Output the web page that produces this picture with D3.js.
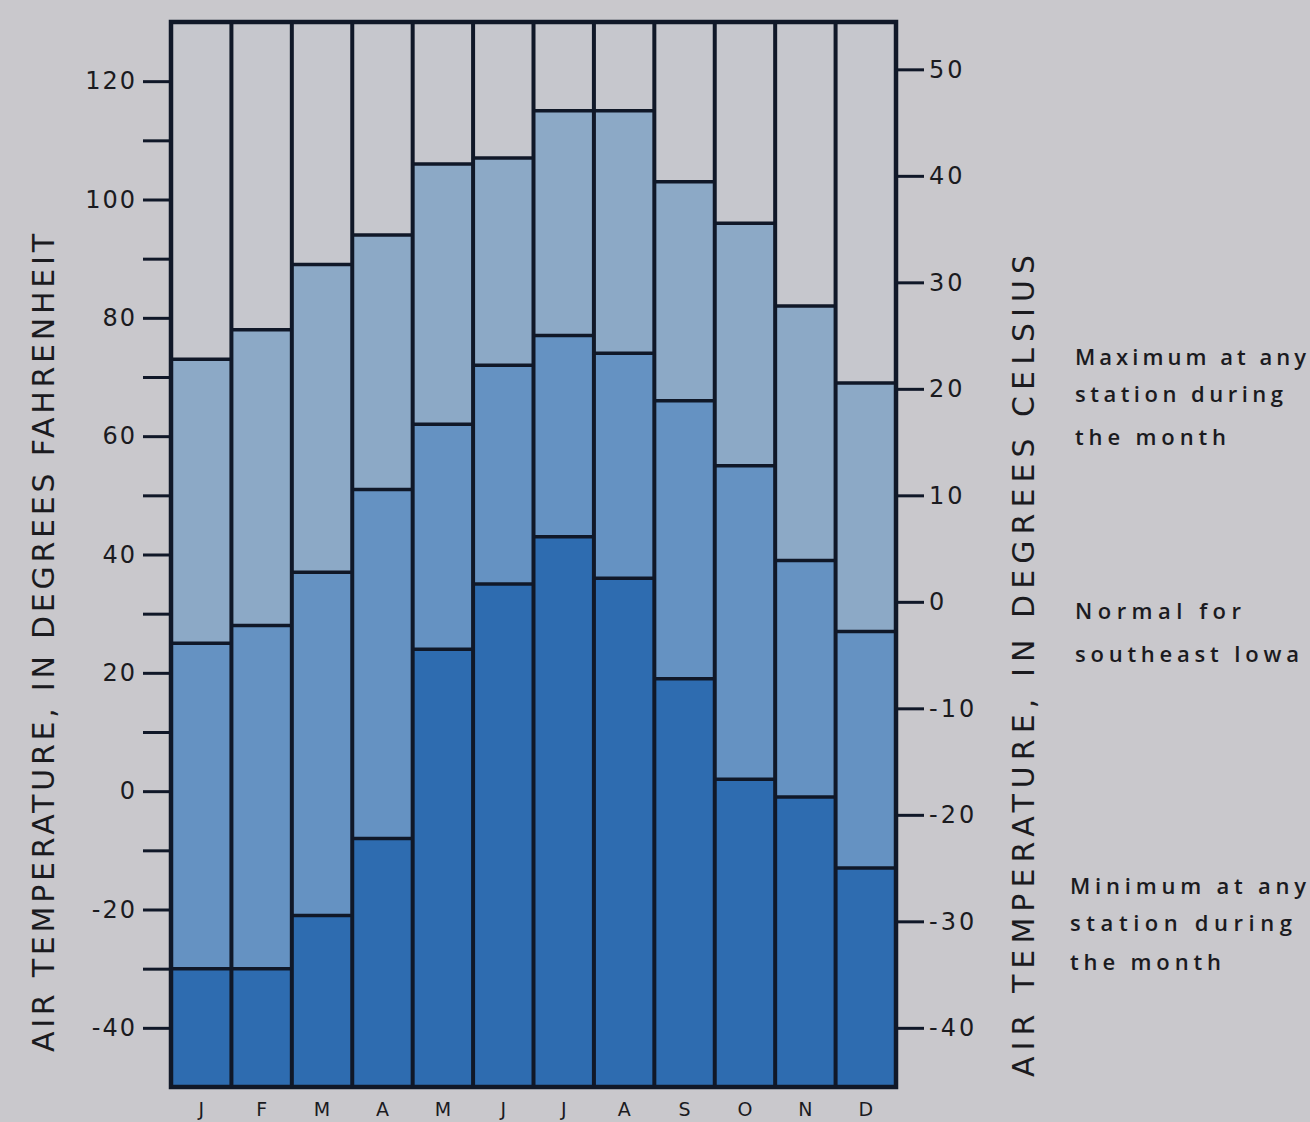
<!DOCTYPE html>
<html>
<head>
<meta charset="utf-8">
<script src="https://cdn.jsdelivr.net/npm/d3@7"></script>
<style>
  html, body { margin: 0; padding: 0; background: #c9c8cc; }
  svg { display: block; }
  text { fill: #1b1b1f; }
</style>
</head>
<body>
<svg id="chart" width="1310" height="1122"></svg>
<script>
// ---- data (degrees Fahrenheit) ----
const months = ["J","F","M","A","M","J","J","A","S","O","N","D"];
const maxAtAnyStation = [73, 78, 89, 94, 106, 107, 115, 115, 103, 96, 82, 69];
const normalSEIowa    = [25, 28, 37, 51, 62, 72, 77, 74, 66, 55, 39, 27];
const minAtAnyStation = [-30, -30, -21, -8, 24, 35, 43, 36, 19, 2, -1, -13];
const fTicks = [-40, -20, 0, 20, 40, 60, 80, 100, 120];
const fMinorTicks = [-40, -30, -20, -10, 0, 10, 20, 30, 40, 50, 60, 70, 80, 90, 100, 110, 120];
const cTicks = [-40, -30, -20, -10, 0, 10, 20, 30, 40, 50];
const legendMax = ["Maximum at any", "station during", "the month"];
const legendNormal = ["Normal for", "southeast Iowa"];
const legendMin = ["Minimum at any", "station during", "the month"];

const svg = d3.select("#chart");
const L = 171, R = 896, T = 22, B = 1087;
const fDomain = [-50, 130];

const x = d3.scaleBand().domain(d3.range(12)).range([L, R]).padding(0);
const y = d3.scaleLinear().domain(fDomain).range([B, T]);
const yC = d3.scaleLinear().domain(fDomain.map(f => (f - 32) * 5 / 9)).range([B, T]);

const colors = { top: "#c6c7cd", light: "#8ca9c6", mid: "#6592c2", dark: "#2e6cb0" };
const stroke = "#101828";

const rows = months.map((m, i) => ({ i, m, max: maxAtAnyStation[i], normal: normalSEIowa[i], min: minAtAnyStation[i] }));

const g = svg.append("g");
rows.forEach(d => {
  const bands = [
    { y0: fDomain[1], y1: d.max, c: colors.top },
    { y0: d.max, y1: d.normal, c: colors.light },
    { y0: d.normal, y1: d.min, c: colors.mid },
    { y0: d.min, y1: fDomain[0], c: colors.dark }
  ];
  g.selectAll(null).data(bands).enter().append("rect")
    .attr("x", x(d.i))
    .attr("width", x.bandwidth())
    .attr("y", b => y(b.y0))
    .attr("height", b => y(b.y1) - y(b.y0))
    .attr("fill", b => b.c);
  g.selectAll(null).data([d.max, d.normal, d.min]).enter().append("line")
    .attr("x1", x(d.i)).attr("x2", x(d.i) + x.bandwidth())
    .attr("y1", v => y(v)).attr("y2", v => y(v))
    .attr("stroke", stroke).attr("stroke-width", 3.5);
});
g.selectAll(null).data(d3.range(1, 12)).enter().append("line")
  .attr("x1", i => x(i)).attr("x2", i => x(i))
  .attr("y1", T).attr("y2", B)
  .attr("stroke", stroke).attr("stroke-width", 4);
g.append("rect").attr("x", L).attr("y", T).attr("width", R - L).attr("height", B - T)
  .attr("fill", "none").attr("stroke", stroke).attr("stroke-width", 4.5);

// left axis (F)
const leftAxis = d3.axisLeft(y).tickValues(fMinorTicks).tickSize(26).tickPadding(6)
  .tickFormat(v => fTicks.includes(v) ? String(v) : "");
const la = svg.append("g").attr("transform", `translate(${L - 2},0)`).call(leftAxis);
la.select(".domain").remove();
la.selectAll(".tick line").attr("stroke", stroke).attr("stroke-width", 3);
la.selectAll(".tick text").attr("font-family", "DejaVu Sans, sans-serif").attr("font-size", 24)
  .attr("letter-spacing", 2).attr("fill", "#1b1b1f");

// right axis (C)
const rightAxis = d3.axisRight(yC).tickValues(cTicks).tickSize(26).tickPadding(5)
  .tickFormat(v => String(v));
const ra = svg.append("g").attr("transform", `translate(${R + 2},0)`).call(rightAxis);
ra.select(".domain").remove();
ra.selectAll(".tick line").attr("stroke", stroke).attr("stroke-width", 3);
ra.selectAll(".tick text").attr("font-family", "DejaVu Sans, sans-serif").attr("font-size", 24)
  .attr("letter-spacing", 3).attr("fill", "#1b1b1f");

// month labels
svg.append("g").selectAll("text").data(rows).enter().append("text")
  .attr("x", d => x(d.i) + x.bandwidth() / 2)
  .attr("y", 1116)
  .attr("text-anchor", "middle")
  .attr("font-family", "DejaVu Sans, sans-serif")
  .attr("font-size", 19)
  .text(d => d.m);

// axis titles
svg.append("text")
  .attr("transform", "translate(54,1052) rotate(-90)")
  .attr("font-family", "DejaVu Sans, sans-serif").attr("font-size", 30)
  .attr("textLength", 818).attr("lengthAdjust", "spacing")
  .text("AIR  TEMPERATURE, IN DEGREES FAHRENHEIT");
svg.append("text")
  .attr("transform", "translate(1034,1077) rotate(-90)")
  .attr("font-family", "DejaVu Sans, sans-serif").attr("font-size", 30)
  .attr("textLength", 822).attr("lengthAdjust", "spacing")
  .text("AIR  TEMPERATURE, IN DEGREES CELSIUS");

// legend texts
function legend(lines, x0, ys, widths) {
  svg.append("g").selectAll("text").data(lines).enter().append("text")
    .attr("x", x0).attr("y", (d, i) => ys[i])
    .attr("font-family", "Open Sans, sans-serif").attr("font-size", 22)
    .attr("font-weight", 600)
    .attr("textLength", (d, i) => widths[i]).attr("lengthAdjust", "spacing")
    .text(d => d);
}
legend(legendMax, 1075, [365, 402, 445], [231, 208, 151]);
legend(legendNormal, 1075, [619, 662], [166, 224]);
legend(legendMin, 1070, [894, 931, 970], [236, 222, 151]);
</script>
</body>
</html>
